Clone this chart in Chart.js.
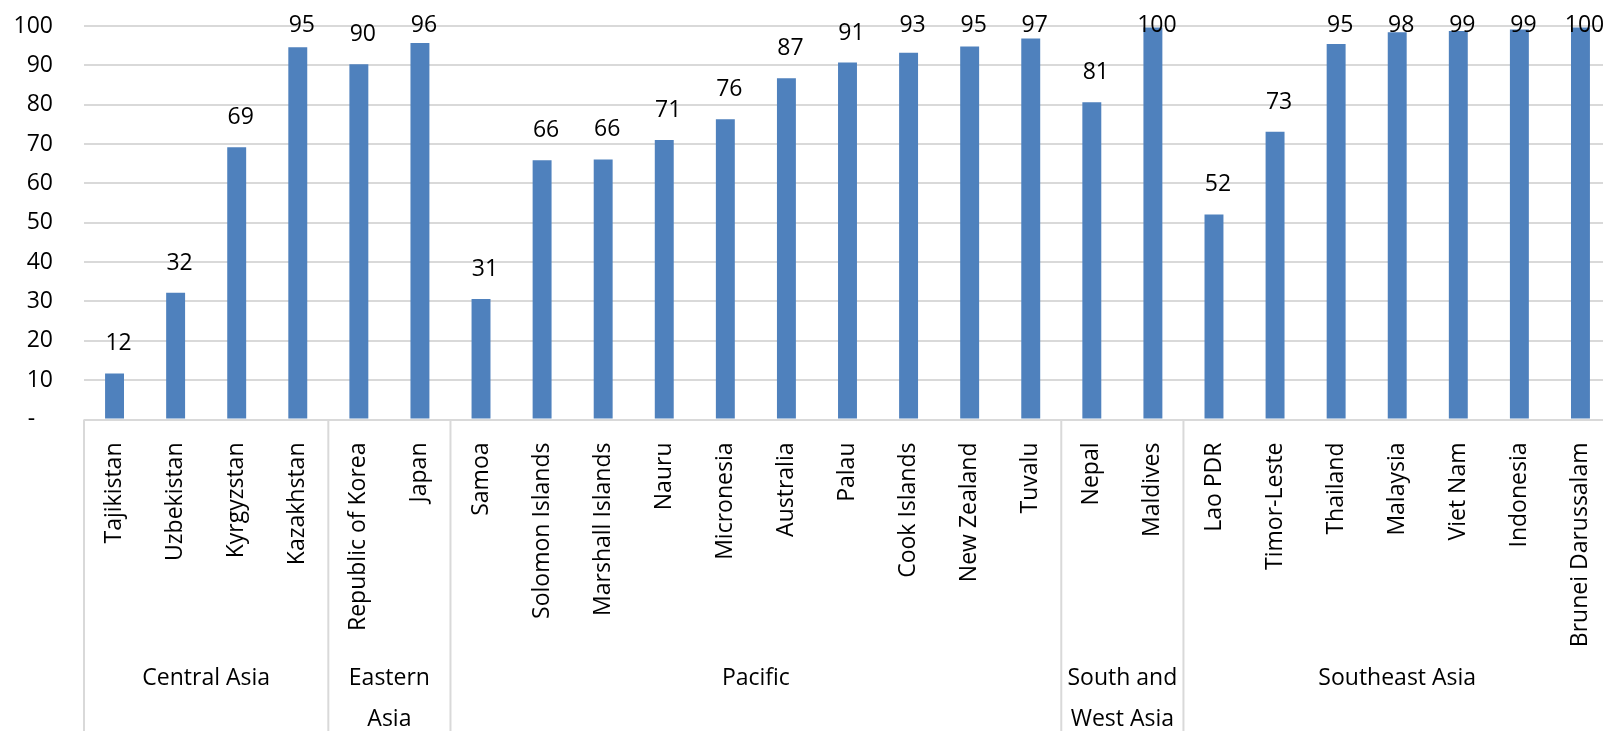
<!DOCTYPE html>
<html lang="en">
<head>
  <meta charset="UTF-8" />
  <title>Coverage by country and sub-region</title>
  <script src="https://cdn.jsdelivr.net/npm/chart.js"></script>
  <style>
    html, body {
      margin: 0;
      padding: 0;
      background: #fff;
      overflow: hidden;
    }
    .chart-box {
      position: relative;
      width: 1611px;
      height: 731px;
    }
  </style>
</head>
<body>
  <div class="chart-box">
    <canvas id="coverageChart"></canvas>
  </div>

  <script>
    const countries = [
      'Tajikistan', 'Uzbekistan', 'Kyrgyzstan', 'Kazakhstan',
      'Republic of Korea', 'Japan',
      'Samoa', 'Solomon Islands', 'Marshall Islands', 'Nauru', 'Micronesia',
      'Australia', 'Palau', 'Cook Islands', 'New Zealand', 'Tuvalu',
      'Nepal', 'Maldives',
      'Lao PDR', 'Timor-Leste', 'Thailand', 'Malaysia', 'Viet Nam', 'Indonesia', 'Brunei Darussalam'
    ];
    const values = [
      11.7, 32.2, 69.2, 94.6,
      90.3, 95.7,
      30.6, 65.9, 66.1, 71.0, 76.3, 86.7, 90.7, 93.2, 94.8, 96.8,
      80.6, 99.6,
      52.1, 73.1, 95.4, 98.4, 98.7, 99.1, 99.6
    ];
    const groupNames = [
      ['Central Asia'],
      ['Eastern', 'Asia'],
      ['Pacific'],
      ['South and', 'West Asia'],
      ['Southeast Asia']
    ];
    const groupSizes = [4, 2, 10, 2, 7];

    const FONT = '"Open Sans", "Noto Sans", sans-serif';
    const LINE = '#d9d9d9';

    // value labels above the bars, kept inside the top of the plot
    const barValues = {
      id: 'barValues',
      afterDatasetsDraw(chart) {
        const { ctx, chartArea } = chart;
        const meta = chart.getDatasetMeta(0);
        ctx.save();
        ctx.font = '23px ' + FONT;
        ctx.fillStyle = '#000';
        ctx.textAlign = 'center';
        ctx.textBaseline = 'alphabetic';
        meta.data.forEach((bar, i) => {
          const y = Math.max(bar.y - 23, chartArea.top + 6);
          ctx.fillText(Math.round(values[i]), bar.x + 4, y);
        });
        ctx.restore();
      }
    };

    // second level of the category axis: region names and dividers
    const groupAxis = {
      id: 'groupAxis',
      afterDraw(chart) {
        const { ctx, chartArea, scales: { x } } = chart;
        ctx.save();
        ctx.strokeStyle = LINE;
        ctx.lineWidth = 2;
        ctx.font = '23px ' + FONT;
        ctx.fillStyle = '#000';
        ctx.textAlign = 'center';
        ctx.textBaseline = 'alphabetic';
        let start = 0;
        groupSizes.forEach((size, g) => {
          const left = x.getPixelForValue(start - 0.5);
          const right = x.getPixelForValue(start + size - 0.5);
          ctx.beginPath();
          ctx.moveTo(left, chartArea.bottom);
          ctx.lineTo(left, chart.height);
          ctx.stroke();
          groupNames[g].forEach((line, i) => {
            ctx.fillText(line, (left + right) / 2, chartArea.bottom + 265 + i * 41);
          });
          start += size;
        });
        ctx.restore();
      }
    };

    const ctx = document.getElementById('coverageChart').getContext('2d');
    new Chart(ctx, {
      type: 'bar',
      data: {
        labels: countries,
        datasets: [{
          data: values,
          backgroundColor: '#4f81bd',
          borderWidth: 0,
          barPercentage: 0.31,
          categoryPercentage: 1
        }]
      },
      options: {
        responsive: true,
        maintainAspectRatio: false,
        animation: false,
        layout: { padding: { top: 26, right: 0, bottom: 0, left: 0 } },
        plugins: {
          legend: { display: false },
          tooltip: { enabled: false }
        },
        scales: {
          x: {
            grid: { display: false },
            border: { display: false },
            ticks: {
              autoSkip: false,
              minRotation: 90,
              maxRotation: 90,
              padding: 15,
              color: '#000',
              font: { family: FONT, size: 23 }
            },
            afterFit(scale) {
              scale.height = 311.5;
              scale.paddingLeft = 0;
              scale.paddingRight = 0;
            }
          },
          y: {
            min: 0,
            max: 100,
            border: { display: false },
            grid: { color: LINE, lineWidth: 2, drawTicks: false },
            ticks: {
              stepSize: 10,
              padding: 31,
              color: '#000',
              font: { family: FONT, size: 23 },
              callback: v => v === 0 ? '-   ' : v
            },
            afterFit(scale) {
              scale.width = 84;
              scale.paddingTop = 0;
              scale.paddingBottom = 0;
            }
          }
        }
      },
      plugins: [barValues, groupAxis]
    });
  </script>
</body>
</html>
